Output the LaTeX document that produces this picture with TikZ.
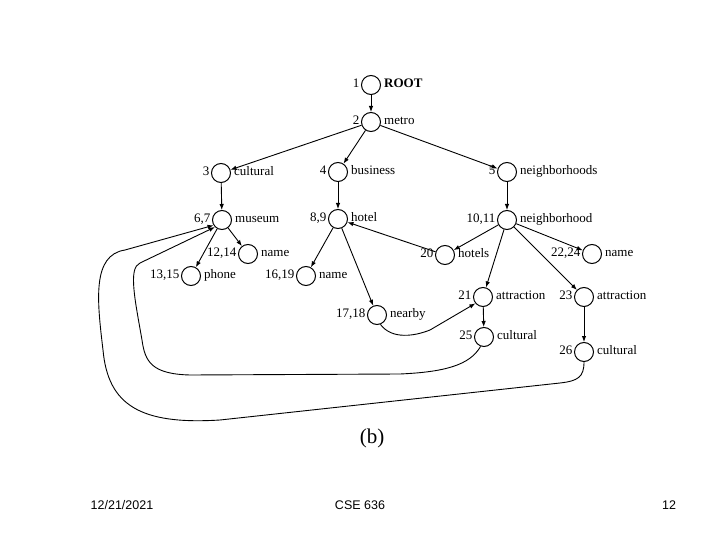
\documentclass[tikz,border=0pt]{standalone}
\usepackage{fontspec}
\setmainfont{Liberation Serif}
\newfontfamily\slidefont{Liberation Sans}
\usetikzlibrary{arrows.meta,positioning}

\begin{document}
\begin{tikzpicture}[x=1pt,y=-1pt,
  font=\fontsize{13}{15}\selectfont, node distance=0pt and 1pt,
  vtx/.style={circle,draw,line width=1pt,minimum size=19pt,inner sep=0pt},
  num/.style={inner sep=0.5pt,text height=1.6ex,text depth=0.3ex},
  lbl/.style={inner sep=1pt,text height=1.6ex,text depth=0.3ex},
  arr/.style={-{Latex[length=6pt,width=4.5pt]},line width=0.9pt},
  foot/.style={font=\slidefont\fontsize{12.5}{14}\selectfont}]
\useasboundingbox (0,0) rectangle (720,540);
% nodes of the data graph
\foreach \nm/\pos/\num/\txt in {
  root/{371,85}/1/{\textbf{ROOT}},
  metro/{371,122}/2/metro,
  cultA/{221,173}/3/cultural,
  busi/{338,172}/4/business,
  nbhds/{507,172}/5/neighborhoods,
  museum/{222,220}/{6,7}/museum,
  hotel/{338,219}/{8,9}/hotel,
  nbhd/{507,220}/{10,11}/neighborhood,
  mname/{248,254}/{12,14}/name,
  phone/{191,276}/{13,15}/phone,
  hname/{306,276}/{16,19}/name,
  hotels/{445,255}/20/hotels,
  nname/{592,254}/{22,24}/name,
  attrA/{483,297}/21/attraction,
  attrB/{584,297}/23/attraction,
  nearby/{377,315}/{17,18}/nearby,
  cultB/{484,337}/25/cultural,
  cultC/{584,352}/26/cultural}
{
  \node[vtx] (\nm) at (\pos) {};
  \node[num,left=of \nm] (\nm-n) {\num};
  \node[lbl,right=2pt of \nm] (\nm-t) {\txt};
}
% tree edges
\draw[arr] (root)--(metro);
\foreach \a/\b in {metro/cultA,metro/busi,metro/nbhds,cultA/museum,busi/hotel,
  nbhds/nbhd,museum/mname,museum/phone,hotel/hname,hotel/nearby,nbhd/hotels,
  nbhd/nname,nbhd/attrA,nbhd/attrB,hotels/hotel,attrA/cultB,attrB/cultC}
  {\draw[arr] (\a)--(\b);}
% reference edges
\draw[arr] (nearby.-70) .. controls (392,340) and (415,336) .. (430,330) -- (attrA.220);
\draw[arr] (cultB.250) .. controls (470,365) and (445,372) .. (400,374) -- (190,375)
  .. controls (152,374) and (145,362) .. (142,340)
  .. controls (135,300) and (128,268) .. (140,263) -- (museum.225);
\draw[arr] (cultC.south) .. controls (584,377) and (578,381) .. (560,383) -- (220,420)
  .. controls (140,425) and (108,405) .. (103,350)
  .. controls (97,300) and (92,255) .. (125,250) -- (museum.212);
% caption and slide footer
\node[font=\fontsize{21}{23}\selectfont] (cap) at (372,438) {(b)};
\node[foot] (date) at (122,505) {12/21/2021};
\node[foot] (course) at (360,505) {CSE 636};
\node[foot] (page) at (669,505) {12};
\end{tikzpicture}
\end{document}
